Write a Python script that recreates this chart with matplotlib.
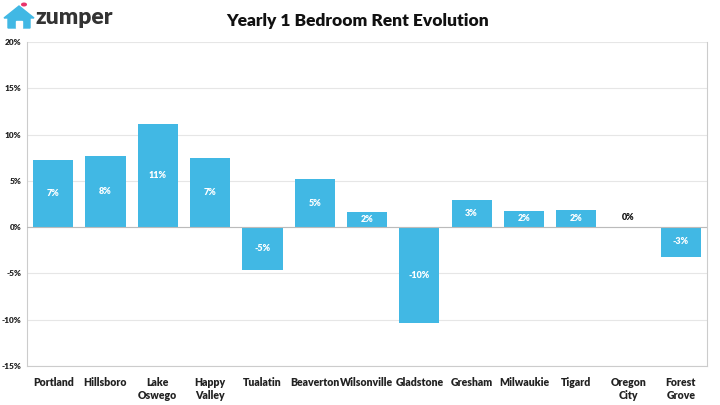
import matplotlib
matplotlib.use("Agg")
import matplotlib.pyplot as plt
from matplotlib.patches import Polygon, Rectangle, Circle

cities = ["Portland", "Hillsboro", "Lake\nOswego", "Happy\nValley", "Tualatin", "Beaverton",
          "Wilsonville", "Gladstone", "Gresham", "Milwaukie", "Tigard", "Oregon\nCity", "Forest\nGrove"]
values = [7.3, 7.7, 11.1, 7.45, -4.6, 5.2, 1.6, -10.4, 2.9, 1.8, 1.9, 0.0, -3.2]
labels = ["7%", "8%", "11%", "7%", "-5%", "5%", "2%", "-10%", "3%", "2%", "2%", "0%", "-3%"]
yticks = [-15, -10, -5, 0, 5, 10, 15, 20]
title = "Yearly 1 Bedroom Rent Evolution"

plt.rcParams['font.family'] = ['Lato', 'DejaVu Sans']
BLUE = "#41B8E4"

fig = plt.figure(figsize=(7.2, 4.05), dpi=100)
ax = fig.add_axes([0.0375, 0.0963, 0.9445, 0.7997])
x = list(range(len(cities)))
ax.bar(x, values, width=0.77, color=BLUE, zorder=3)
ax.set_xlim(-0.5, len(cities) - 0.5)
ax.set_ylim(-15, 20)
ax.set_yticks(yticks)
ax.set_yticklabels([f"{t}%" for t in yticks], fontsize=6, fontweight='heavy', color='#222222')
ax.set_xticks(x)
ax.set_xticklabels(cities, fontsize=7.6, fontweight='heavy', color='#222222')
ax.tick_params(axis='both', length=0, pad=4)
ax.tick_params(axis='x', pad=8)
ax.grid(axis='y', color='#e6e6e6', linewidth=0.8, zorder=0)
ax.axhline(0, color='#bbbbbb', linewidth=0.8, zorder=4)
for s in ['top']:
    ax.spines[s].set_visible(False)
for s in ['left', 'right', 'bottom']:
    ax.spines[s].set_color('#cccccc')
    ax.spines[s].set_linewidth(0.8)

for xi, v, lab in zip(x, values, labels):
    if v == 0:
        ax.text(xi, 1.0, lab, ha='center', va='center', fontsize=6.5, fontweight='heavy', color='#111111', zorder=5)
    else:
        ax.text(xi, v / 2, lab, ha='center', va='center', fontsize=6.5, fontweight='heavy', color='white', zorder=5)

fig.text(0.496, 0.948, title, ha='center', va='center', fontsize=12.5, fontweight='heavy', color='#111111')

# zumper logo
H = 405.0
W = 720.0
def fx(px):
    return px / W
def fy(py):
    return 1 - py / H
house = Polygon([(fx(4), fy(18)), (fx(19), fy(6)), (fx(34), fy(18)), (fx(30), fy(18)),
                 (fx(30), fy(28)), (fx(8), fy(28)), (fx(8), fy(18))],
                closed=True, transform=fig.transFigure, color=BLUE, zorder=10)
fig.patches.append(house)
door = Rectangle((fx(16), fy(28)), fx(6), fy(21) - fy(28), transform=fig.transFigure, color='white', zorder=11)
fig.patches.append(door)
dot = Circle((fx(24), fy(4.5)), 2.3 / W, transform=fig.transFigure, color='#e8336b', zorder=12)
fig.patches.append(dot)
fig.text(fx(35), fy(18), "zumper", ha='left', va='center', fontsize=16.5, fontweight='heavy', color='#333333')

fig.savefig("out.png", dpi=100)
